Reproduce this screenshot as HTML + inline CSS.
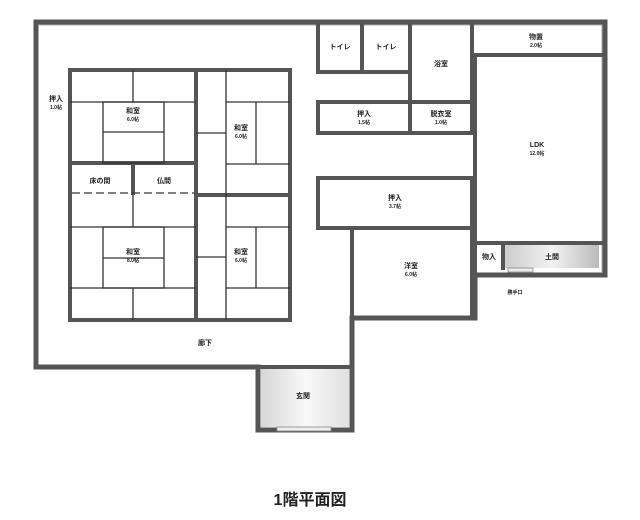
<!DOCTYPE html>
<html><head><meta charset="utf-8"><style>
html,body{margin:0;padding:0;background:#fff;}
svg{display:block;}
text{font-family:"Liberation Sans","Noto Sans CJK JP",sans-serif;fill:#222;text-anchor:middle;font-weight:bold;}
.s{font-size:7px;}
.xs{font-size:5px;}
</style></head><body>
<svg width="640" height="520" viewBox="0 0 640 520" xmlns="http://www.w3.org/2000/svg">
<defs>
<linearGradient id="g1" x1="0" x2="1"><stop offset="0" stop-color="#ccc"/><stop offset="0.5" stop-color="#f2f2f2"/><stop offset="1" stop-color="#bbb"/></linearGradient>
<linearGradient id="g2" x1="0" x2="1"><stop offset="0" stop-color="#bbb"/><stop offset="0.5" stop-color="#f4f4f4"/><stop offset="1" stop-color="#ccc"/></linearGradient>
</defs>
<!-- outer outline -->
<g fill="none" stroke="#555" stroke-width="5" stroke-linejoin="miter">
<path d="M36,22 H605 V275 H475 V318 H352 V430 H258 V367 H36 Z"/>
</g>
<g fill="none" stroke="#aaa" stroke-width="1">
<path d="M39,25 H602 V272"/>
</g>
<!-- genkan shading -->
<rect x="261" y="369" width="88" height="58" fill="url(#g2)" opacity="0.6"/>
<rect x="505" y="245" width="94" height="23" fill="url(#g1)"/>
<!-- interior walls -->
<g fill="none" stroke="#555" stroke-width="4">
<rect x="70" y="70" width="220" height="250"/>
<line x1="196" y1="70" x2="196" y2="320"/>
<line x1="70" y1="163" x2="196" y2="163"/>
<line x1="196" y1="195" x2="290" y2="195"/>
<line x1="133" y1="163" x2="133" y2="195"/>
<path d="M318,22 V72 H410"/>
<line x1="362" y1="22" x2="362" y2="72"/>
<path d="M410,22 V102"/>
<rect x="318" y="102" width="154" height="31"/>
<line x1="410" y1="102" x2="410" y2="133"/>
<line x1="472" y1="22" x2="472" y2="133"/>
<line x1="472" y1="55" x2="605" y2="55"/>
<line x1="475" y1="55" x2="475" y2="275"/>
<line x1="475" y1="243" x2="605" y2="243"/>
<line x1="503" y1="243" x2="503" y2="270"/>
<rect x="318" y="178" width="154" height="50"/>
<path d="M352,228 V318"/>
<line x1="472" y1="228" x2="472" y2="318"/>
<line x1="258" y1="367" x2="352" y2="367"/>
</g>
<!-- tatami lines -->
<g fill="none" stroke="#333" stroke-width="1.3">
<line x1="70" y1="102" x2="196" y2="102"/>
<line x1="133" y1="70" x2="133" y2="102"/>
<rect x="103" y="102" width="61" height="61"/>
<line x1="103" y1="132" x2="164" y2="132"/>
<line x1="70" y1="227" x2="196" y2="227"/>
<line x1="133" y1="195" x2="133" y2="227"/>
<line x1="70" y1="288" x2="196" y2="288"/>
<line x1="133" y1="288" x2="133" y2="320"/>
<rect x="103" y="227" width="61" height="61"/>
<line x1="103" y1="258" x2="164" y2="258"/>
<line x1="226" y1="70" x2="226" y2="320"/>
<line x1="196" y1="133" x2="226" y2="133"/>
<line x1="196" y1="257" x2="226" y2="257"/>
<line x1="226" y1="102" x2="290" y2="102"/>
<line x1="226" y1="164" x2="290" y2="164"/>
<line x1="256" y1="102" x2="256" y2="164"/>
<line x1="226" y1="227" x2="290" y2="227"/>
<line x1="226" y1="288" x2="290" y2="288"/>
<line x1="256" y1="227" x2="256" y2="288"/>
<line x1="72" y1="193" x2="194" y2="193" stroke-dasharray="8,4"/>
</g>
<!-- door marks -->
<rect x="277" y="427" width="54" height="4" fill="#eee" stroke="#888" stroke-width="0.8"/>
<rect x="508" y="268" width="25" height="4" fill="#eee" stroke="#888" stroke-width="0.8"/>
<!-- labels -->
<text class="s" x="56" y="101">押入</text><text class="xs" x="56" y="109">1.0帖</text>
<text class="s" x="133" y="113">和室</text><text class="xs" x="133" y="121">6.0帖</text>
<text class="s" x="241" y="130">和室</text><text class="xs" x="241" y="138">6.0帖</text>
<text class="s" x="100" y="183">床の間</text>
<text class="s" x="164" y="183">仏間</text>
<text class="s" x="133" y="254">和室</text><text class="xs" x="133" y="262">8.0帖</text>
<text class="s" x="241" y="254">和室</text><text class="xs" x="241" y="262">6.0帖</text>
<text class="s" x="205" y="345">廊下</text>
<text class="s" x="303" y="398">玄関</text>
<text class="s" x="340" y="49">トイレ</text>
<text class="s" x="386" y="49">トイレ</text>
<text class="s" x="441" y="66">浴室</text>
<text class="s" x="536" y="39">物置</text><text class="xs" x="536" y="47">2.0帖</text>
<text class="s" x="364" y="116">押入</text><text class="xs" x="364" y="124">1.5帖</text>
<text class="s" x="441" y="116">脱衣室</text><text class="xs" x="441" y="124">1.0帖</text>
<text class="s" x="537" y="147">LDK</text><text class="xs" x="537" y="155">12.0帖</text>
<text class="s" x="395" y="200">押入</text><text class="xs" x="395" y="208">3.7帖</text>
<text class="s" x="411" y="268">洋室</text><text class="xs" x="411" y="276">6.0帖</text>
<text class="s" x="489" y="259">物入</text>
<text class="s" x="552" y="259">土間</text>
<text class="xs" x="515" y="294">勝手口</text>
<text x="310" y="505" style="font-size:16px">1階平面図</text>
</svg>
</body></html>
